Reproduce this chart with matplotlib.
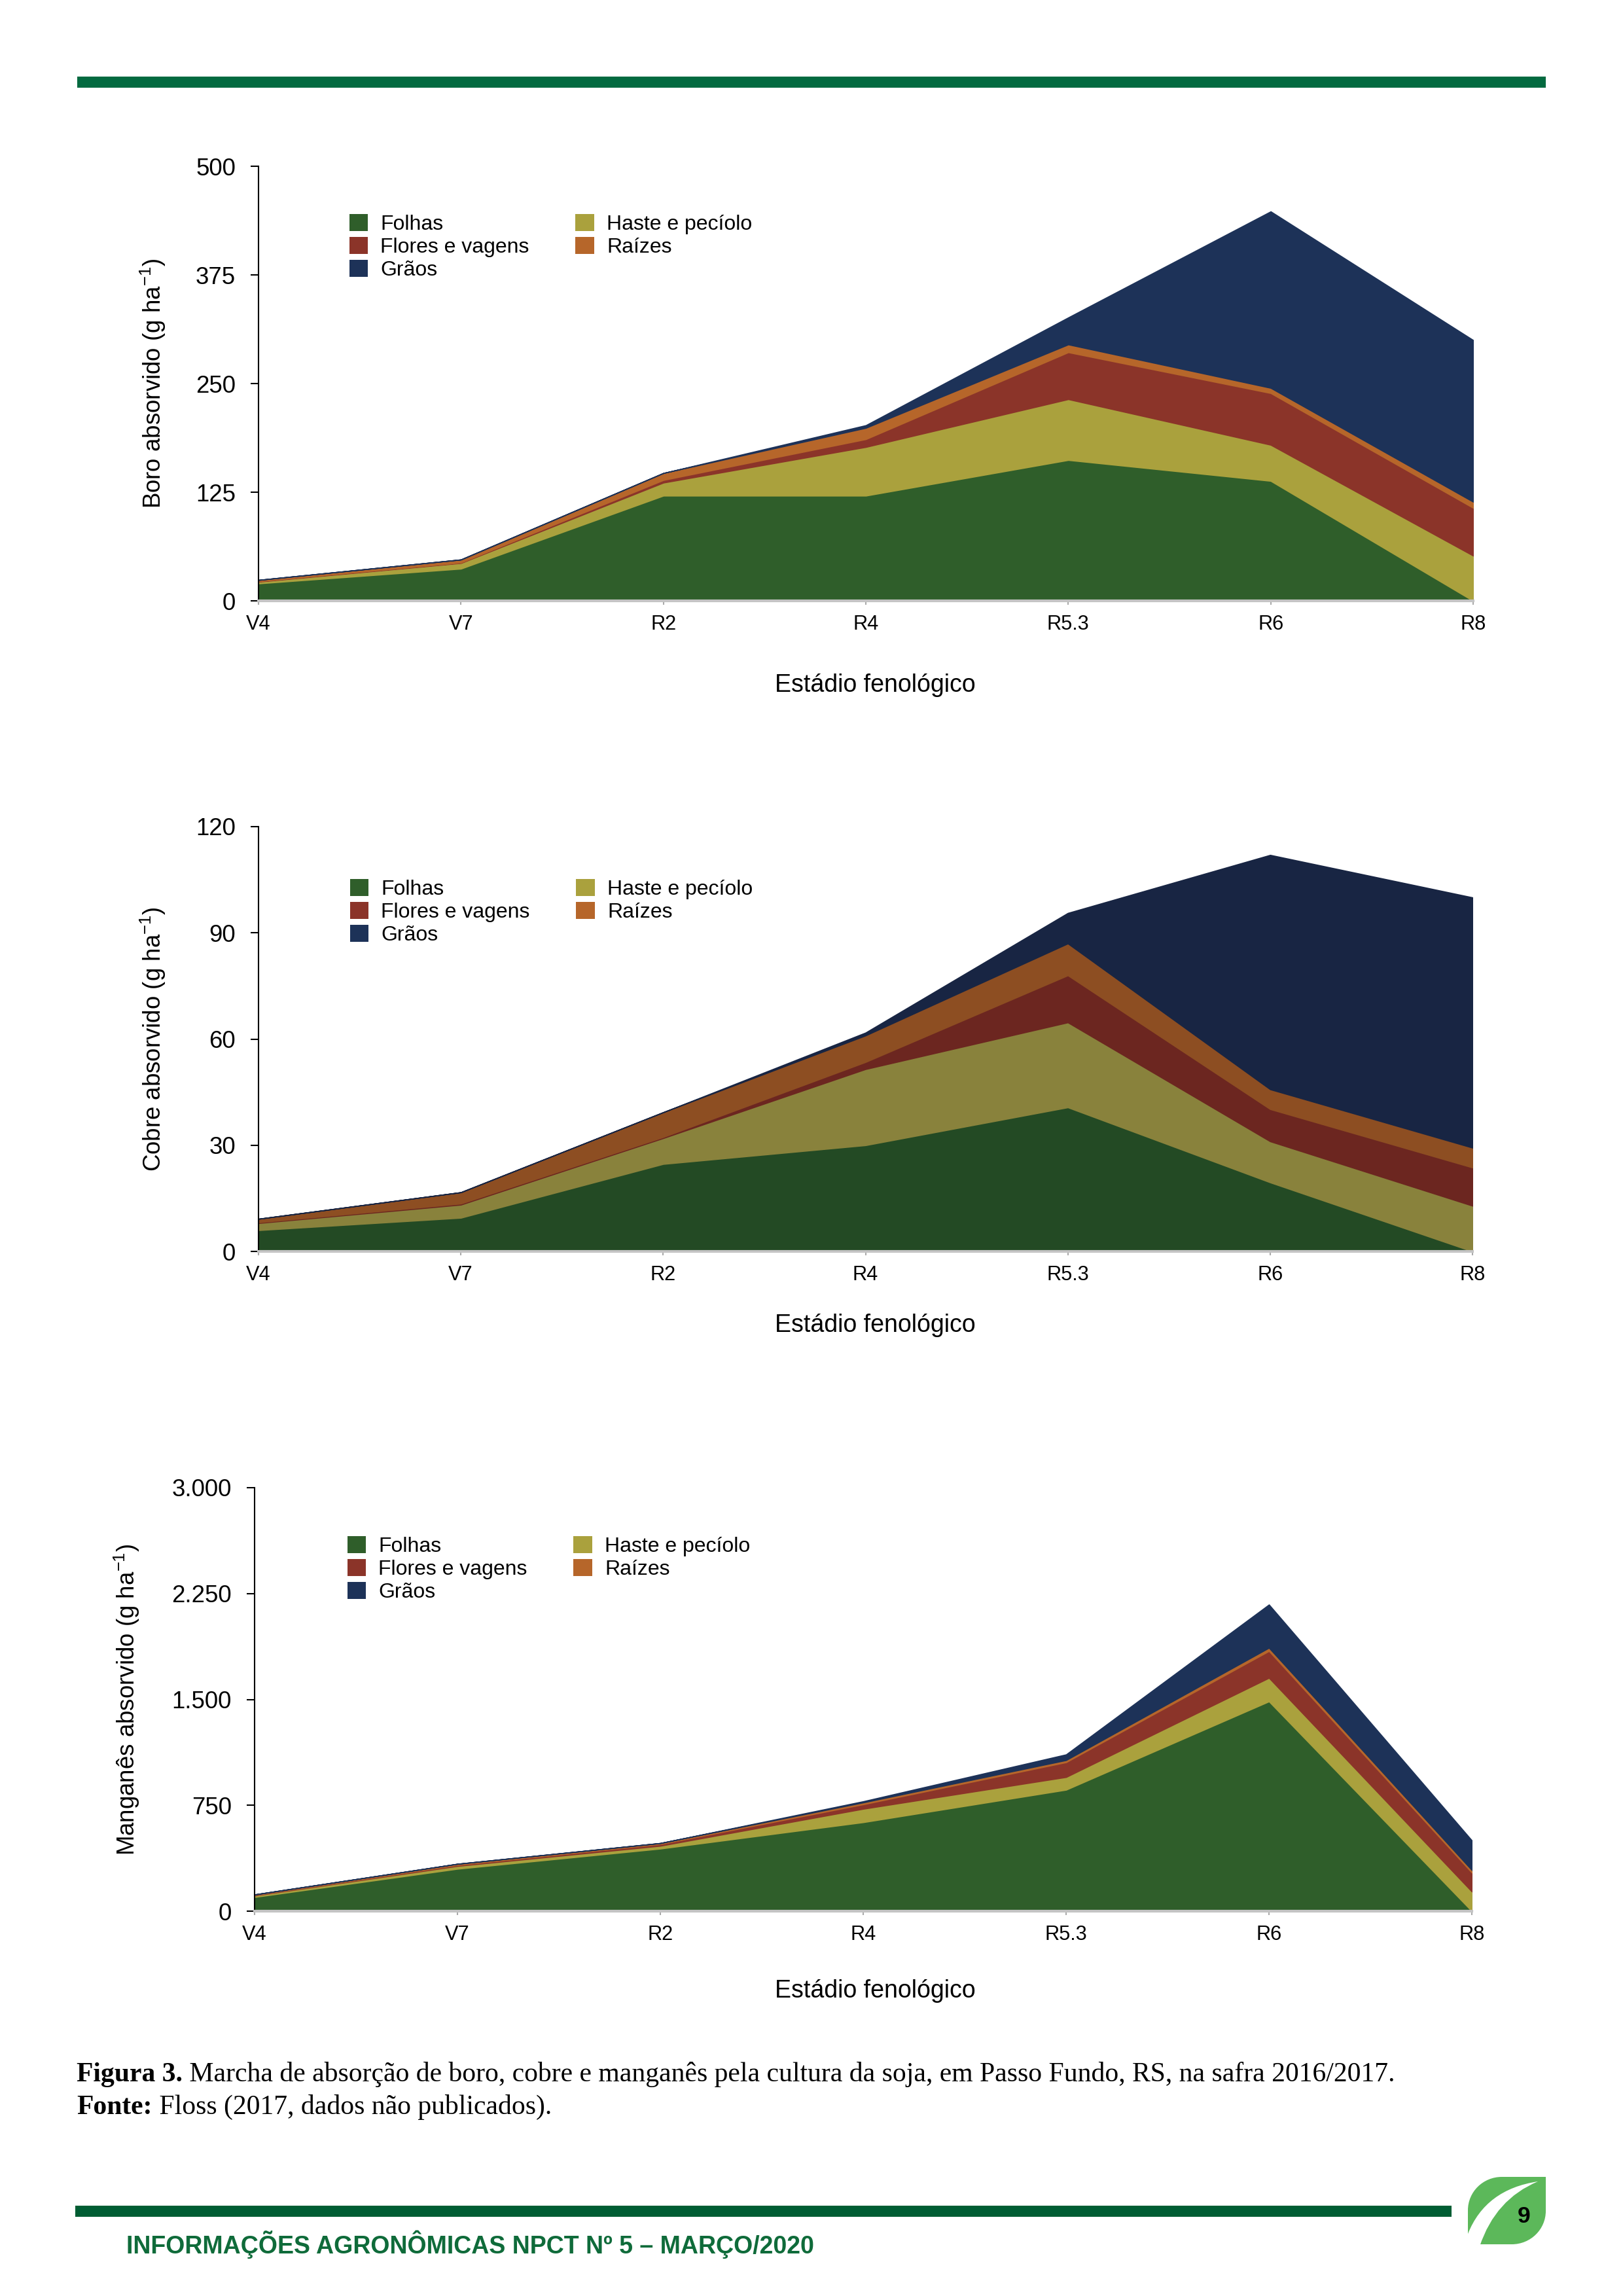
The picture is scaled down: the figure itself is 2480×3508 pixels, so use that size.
import numpy as np
import matplotlib
matplotlib.use("Agg")
import matplotlib.pyplot as plt
from matplotlib.patches import Patch, Rectangle, PathPatch
from matplotlib.path import Path
from matplotlib.ticker import FixedLocator, FixedFormatter

plt.rcParams["font.family"] = ["Liberation Sans", "DejaVu Sans"]
plt.rcParams["mathtext.default"] = "regular"

# ---- data ----
stages = ["V4", "V7", "R2", "R4", "R5.3", "R6", "R8"]
layer_names = ["Folhas", "Haste e pecíolo", "Flores e vagens", "Raízes", "Grãos"]

boro_folhas = [20, 37, 121, 121, 162, 138, 0]
boro_haste = [2, 6.5, 15, 56, 70, 41.5, 52]
boro_flores = [0.5, 0.5, 3, 9, 54, 59.5, 55]
boro_raizes = [1.5, 3.5, 8, 13, 9, 6, 7]
boro_graos = [0, 0, 0, 3, 31, 203, 186]
boro_ticks = [0, 125, 250, 375, 500]
boro_ticklabels = ["0", "125", "250", "375", "500"]

cobre_folhas = [6, 9.5, 24.7, 30, 40.7, 19.5, 0]
cobre_haste = [2, 3.7, 7.3, 21.5, 24, 11.6, 12.9]
cobre_flores = [0.2, 0.3, 0.3, 2, 13.3, 9.1, 10.8]
cobre_raizes = [1, 3.2, 7, 7.5, 9, 5.6, 5.6]
cobre_graos = [0, 0, 0, 0.8, 8.6, 66.2, 70.7]
cobre_ticks = [0, 30, 60, 90, 120]
cobre_ticklabels = ["0", "30", "60", "90", "120"]

mn_folhas = [100, 300, 443, 630, 860, 1486, 0]
mn_haste = [10, 20, 20, 95, 90, 167, 139]
mn_flores = [3, 7, 12, 32, 105, 190, 134]
mn_raizes = [5, 8, 7, 13, 15, 23, 18]
mn_graos = [0, 0, 0, 8, 40, 306, 210]
mn_ticks = [0, 750, 1500, 2250, 3000]
mn_ticklabels = ["0", "750", "1.500", "2.250", "3.000"]

# ---- colours ----
BRIGHT = ["#2f5e2a", "#aaa13d", "#8b3429", "#b6662a", "#1d3258"]
DARK = ["#234a24", "#89823c", "#6c2620", "#8d4e22", "#182543"]

W, H = 2480, 3508
fig = plt.figure(figsize=(W / 300, H / 300), dpi=300)

# page layer in pixel coordinates
page = fig.add_axes([0, 0, 1, 1], zorder=-1)
page.set_xlim(0, W)
page.set_ylim(H, 0)
page.axis("off")


def panel(rect, layers, fills, ticks, ticklabels, ylabel, ylab_x, xlab_y, leg_xy):
    l, t, r, b = rect
    ax = fig.add_axes([l / W, 1 - b / H, (r - l) / W, (b - t) / H])
    x = np.arange(len(stages))
    ax.stackplot(x, *layers, colors=fills, linewidth=0.4, edgecolor="face")
    ax.set_xlim(0, len(stages) - 1)
    ax.set_ylim(0, ticks[-1])

    ax.spines["top"].set_visible(False)
    ax.spines["right"].set_visible(False)
    ax.spines["left"].set_linewidth(0.5)
    ax.spines["bottom"].set_color("#c4c4c4")
    ax.spines["bottom"].set_linewidth(1.0)

    ax.set_xticks(x)
    ax.set_xticklabels(stages, fontsize=7.4)
    ax.tick_params(axis="x", length=1.5, width=0.5, color="#aaaaaa", pad=3.5)
    ax.yaxis.set_major_locator(FixedLocator(ticks))
    ax.yaxis.set_major_formatter(FixedFormatter(ticklabels))
    ax.tick_params(axis="y", length=2.9, width=0.5, pad=5.5, labelsize=8.8)

    ax.set_ylabel(ylabel, fontsize=8.8, va="center")
    ax.yaxis.set_label_coords((ylab_x - l) / (r - l), 0.5)
    ax.set_xlabel("Estádio fenológico", fontsize=9, va="center")
    ax.xaxis.set_label_coords((1337 - l) / (r - l), -(xlab_y - b) / (b - t))

    order = [0, 2, 4, 1, 3]
    handles = [Patch(facecolor=BRIGHT[i], edgecolor="none") for i in order]
    labels = [layer_names[i] for i in order]
    ax.legend(handles, labels, ncol=2, frameon=False, fontsize=7.7,
              loc="upper left",
              bbox_to_anchor=((leg_xy[0] - l) / (r - l), 1 - (leg_xy[1] - t) / (b - t)),
              borderpad=0, borderaxespad=0, handlelength=0.88, handleheight=0.88,
              handletextpad=0.6, labelspacing=0.12, columnspacing=2.2)
    return ax


panel((395, 254, 2251, 918),
      [boro_folhas, boro_haste, boro_flores, boro_raizes, boro_graos], BRIGHT,
      boro_ticks, boro_ticklabels, r"Boro absorvido (g ha$^{-1}$)", 234, 1047, (534, 327))
panel((395, 1263, 2250, 1912),
      [cobre_folhas, cobre_haste, cobre_flores, cobre_raizes, cobre_graos], DARK,
      cobre_ticks, cobre_ticklabels, r"Cobre absorvido (g ha$^{-1}$)", 234, 2025, (535, 1343))
panel((389, 2273, 2249, 2920),
      [mn_folhas, mn_haste, mn_flores, mn_raizes, mn_graos], BRIGHT,
      mn_ticks, mn_ticklabels, r"Manganês absorvido (g ha$^{-1}$)", 194, 3042, (531, 2347))

# ---- page furniture ----
page.add_patch(Rectangle((118, 117), 2244, 17, color="#036a40", lw=0))
page.add_patch(Rectangle((115, 3370), 2103, 17, color="#005d33", lw=0))

leaf = Path(
    [(2362, 3326), (2362, 3378), (2362, 3406), (2339, 3429), (2310, 3429),
     (2243, 3429), (2243, 3377), (2243, 3349), (2266, 3326), (2295, 3326), (2362, 3326)],
    [Path.MOVETO, Path.LINETO, Path.CURVE4, Path.CURVE4, Path.CURVE4,
     Path.LINETO, Path.LINETO, Path.CURVE4, Path.CURVE4, Path.CURVE4, Path.CLOSEPOLY])
page.add_patch(PathPatch(leaf, facecolor="#5cb85a", edgecolor="none"))
stripe = Path(
    [(2350, 3333), (2270, 3345), (2243, 3413), (2241, 3432), (2261, 3432),
     (2285, 3360), (2350, 3333), (2350, 3333)],
    [Path.MOVETO, Path.CURVE3, Path.CURVE3, Path.LINETO, Path.LINETO,
     Path.CURVE3, Path.CURVE3, Path.CLOSEPOLY])
page.add_patch(PathPatch(stripe, facecolor="white", edgecolor="none"))
page.text(2329, 3386, "9", fontsize=8.5, fontweight="bold", ha="center", va="center")

page.text(193, 3443, "INFORMAÇÕES AGRONÔMICAS NPCT Nº 5 – MARÇO/2020", fontsize=9.0,
          fontweight="bold", color="#0f6b3a", va="baseline")

# caption with bold lead-ins
renderer = fig.canvas.get_renderer()
for y, lead, rest in [(3180, "Figura 3.", " Marcha de absorção de boro, cobre e manganês pela cultura da soja, em Passo Fundo, RS, na safra 2016/2017."),
                      (3230, "Fonte:", " Floss (2017, dados não publicados).")]:
    t1 = page.text(117, y, lead, fontsize=10.0, fontweight="bold",
                   family="Liberation Serif", va="baseline")
    bb = t1.get_window_extent(renderer=renderer)
    x2 = page.transData.inverted().transform((bb.x1, bb.y0))[0]
    page.text(x2, y, rest, fontsize=10.0, family="Liberation Serif", va="baseline")

fig.savefig("out.png", dpi=300)
